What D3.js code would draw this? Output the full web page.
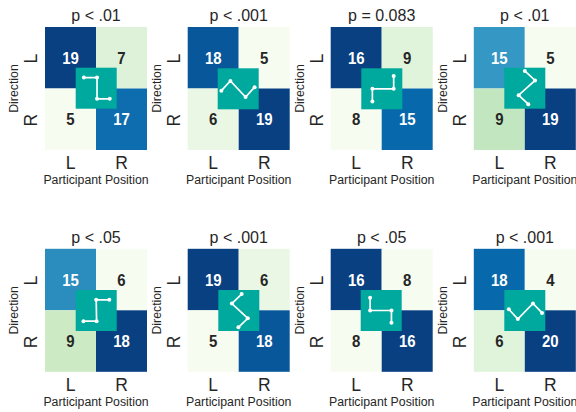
<!DOCTYPE html>
<html>
<head>
<meta charset="utf-8">
<script src="https://cdn.jsdelivr.net/npm/d3@7"></script>
<style>
  html, body { margin: 0; padding: 0; background: #fff; }
  svg { display: block; }
  text { font-family: "Liberation Sans", Arial, sans-serif; fill: #262626; }
</style>
</head>
<body>
<div id="chart"></div>
<script>
// data
const positions = ["L", "R"];
const directions = ["L", "R"];
const titles = ["p < .01", "p < .001", "p = 0.083", "p < .01", "p < .05", "p < .001", "p < .05", "p < .001"];

// counts per panel, order: LL, LR, RL, RR
const counts = [
  [19, 7, 5, 17],
  [18, 5, 6, 19],
  [16, 9, 8, 15],
  [15, 5, 9, 19],
  [15, 6, 9, 18],
  [19, 6, 5, 18],
  [16, 8, 8, 16],
  [18, 4, 6, 20]
];

// gesture drawn in the inset of each panel, 0-1 in the inset square
const gestureX = [
  [0.20, 0.52, 0.52, 0.83],
  [0.09, 0.31, 0.68, 0.90],
  [0.27, 0.27, 0.79, 0.79],
  [0.50, 0.75, 0.35, 0.585],
  [0.19, 0.51, 0.50, 0.82],
  [0.57, 0.33, 0.72, 0.49],
  [0.23, 0.23, 0.75, 0.75],
  [0.11, 0.33, 0.70, 0.92]
];
const gestureY = [
  [0.24, 0.24, 0.76, 0.76],
  [0.545, 0.31, 0.70, 0.46],
  [0.81, 0.50, 0.50, 0.19],
  [0.08, 0.31, 0.67, 0.89],
  [0.76, 0.76, 0.24, 0.24],
  [0.10, 0.33, 0.69, 0.91],
  [0.19, 0.50, 0.50, 0.80],
  [0.47, 0.71, 0.33, 0.56]
];

// layout
const width = 576, height = 412;
const panelW = 102, panelH = 123, insetSize = 41;
const panelLeft = [45, 187.7, 330.7, 473.8];
const panelTop = [27, 248.8];
const insetLeft = [75.7, 217.7, 361.3, 504.3, 75.7, 218.3, 360.7, 504.3];
const insetTop = [67.7, 68.3, 68.3, 67.7, 290, 290, 290, 290];

const svg = d3.select("#chart")
  .append("svg")
  .attr("width", width)
  .attr("height", height);

const gnbu = d3.schemeGnBu[9];

counts.forEach(function(values, i) {
  const left = panelLeft[i % 4];
  const top = panelTop[Math.floor(i / 4)];

  const x = d3.scaleBand().domain(positions).range([0, panelW]);
  const y = d3.scaleBand().domain(directions).range([0, panelH]);

  // colours scaled per panel, min to max
  const t = d3.scaleLinear().domain(d3.extent(values)).range([0, 1]);
  const color = d3.scaleLinear()
    .domain(gnbu.map((c, k) => k / 8))
    .range(gnbu);

  const cells = [];
  directions.forEach((d, r) => positions.forEach((p, c) => {
    cells.push({ dir: d, pos: p, value: values[r * 2 + c] });
  }));

  const g = svg.append("g")
    .attr("transform", "translate(" + left + "," + top + ")");

  g.selectAll("rect.cell")
    .data(cells)
    .enter()
    .append("rect")
    .attr("class", "cell")
    .attr("x", d => x(d.pos))
    .attr("y", d => y(d.dir))
    .attr("width", x.bandwidth())
    .attr("height", y.bandwidth())
    .style("fill", d => color(t(d.value)));

  // counts are narrower than the font in the original, so squeeze them a bit
  g.selectAll("text.count")
    .data(cells)
    .enter()
    .append("text")
    .attr("class", "count")
    .attr("transform", d => "translate(" + (x(d.pos) + x.bandwidth() / 2) + "," +
      (y(d.dir) + y.bandwidth() / 2 + 6) + ") scale(0.88,1)")
    .attr("text-anchor", "middle")
    .style("font-size", "17px")
    .style("font-weight", "bold")
    .style("fill", d => t(d.value) > 0.6 ? "#ffffff" : "#262626")
    .text(d => d.value);

  // axes, no tick marks
  const xAxis = g.append("g")
    .attr("transform", "translate(0," + panelH + ")")
    .call(d3.axisBottom(x).tickSize(0).tickPadding(7));
  const yAxis = g.append("g")
    .call(d3.axisLeft(y).tickSize(0).tickPadding(7));
  xAxis.select(".domain").remove();
  yAxis.select(".domain").remove();
  xAxis.selectAll("text")
    .style("font-size", "17.5px")
    .style("fill", "#262626")
    .style("font-family", "'Liberation Sans', Arial, sans-serif");
  yAxis.selectAll("text")
    .attr("transform", "rotate(-90)")
    .attr("x", 0)
    .attr("y", -8)
    .attr("dy", 0)
    .style("text-anchor", "middle")
    .style("font-size", "17.5px")
    .style("fill", "#262626")
    .style("font-family", "'Liberation Sans', Arial, sans-serif");
  yAxis.selectAll(".tick")
    .attr("transform", d => "translate(0," + (y(d) + y.bandwidth() / 2 + 1) + ")");

  g.append("text")
    .attr("x", panelW / 2)
    .attr("y", -6)
    .attr("text-anchor", "middle")
    .style("font-size", "16px")
    .text(titles[i]);

  g.append("text")
    .attr("x", panelW / 2)
    .attr("y", panelH + 34)
    .attr("text-anchor", "middle")
    .style("font-size", "12.3px")
    .text("Participant Position");

  g.append("text")
    .attr("transform", "translate(-27," + (panelH / 2) + ") rotate(-90)")
    .attr("text-anchor", "middle")
    .style("font-size", "12.3px")
    .text("Direction");

  // inset with the gesture
  const inset = svg.append("g")
    .attr("transform", "translate(" + insetLeft[i] + "," + insetTop[i] + ")");
  const ix = d3.scaleLinear().domain([0, 1]).range([0, insetSize]);
  const iy = d3.scaleLinear().domain([0, 1]).range([0, insetSize]);
  const pts = gestureX[i].map((v, k) => [v, gestureY[i][k]]);

  inset.append("rect")
    .attr("width", insetSize)
    .attr("height", insetSize)
    .style("fill", "#00a99d");

  inset.append("path")
    .attr("d", d3.line().x(d => ix(d[0])).y(d => iy(d[1]))(pts))
    .style("fill", "none")
    .style("stroke", "#fff")
    .style("stroke-width", 1.7);

  inset.selectAll("circle")
    .data(pts)
    .enter()
    .append("circle")
    .attr("cx", d => ix(d[0]))
    .attr("cy", d => iy(d[1]))
    .attr("r", 2)
    .style("fill", "#fff");
});
</script>
</body>
</html>
